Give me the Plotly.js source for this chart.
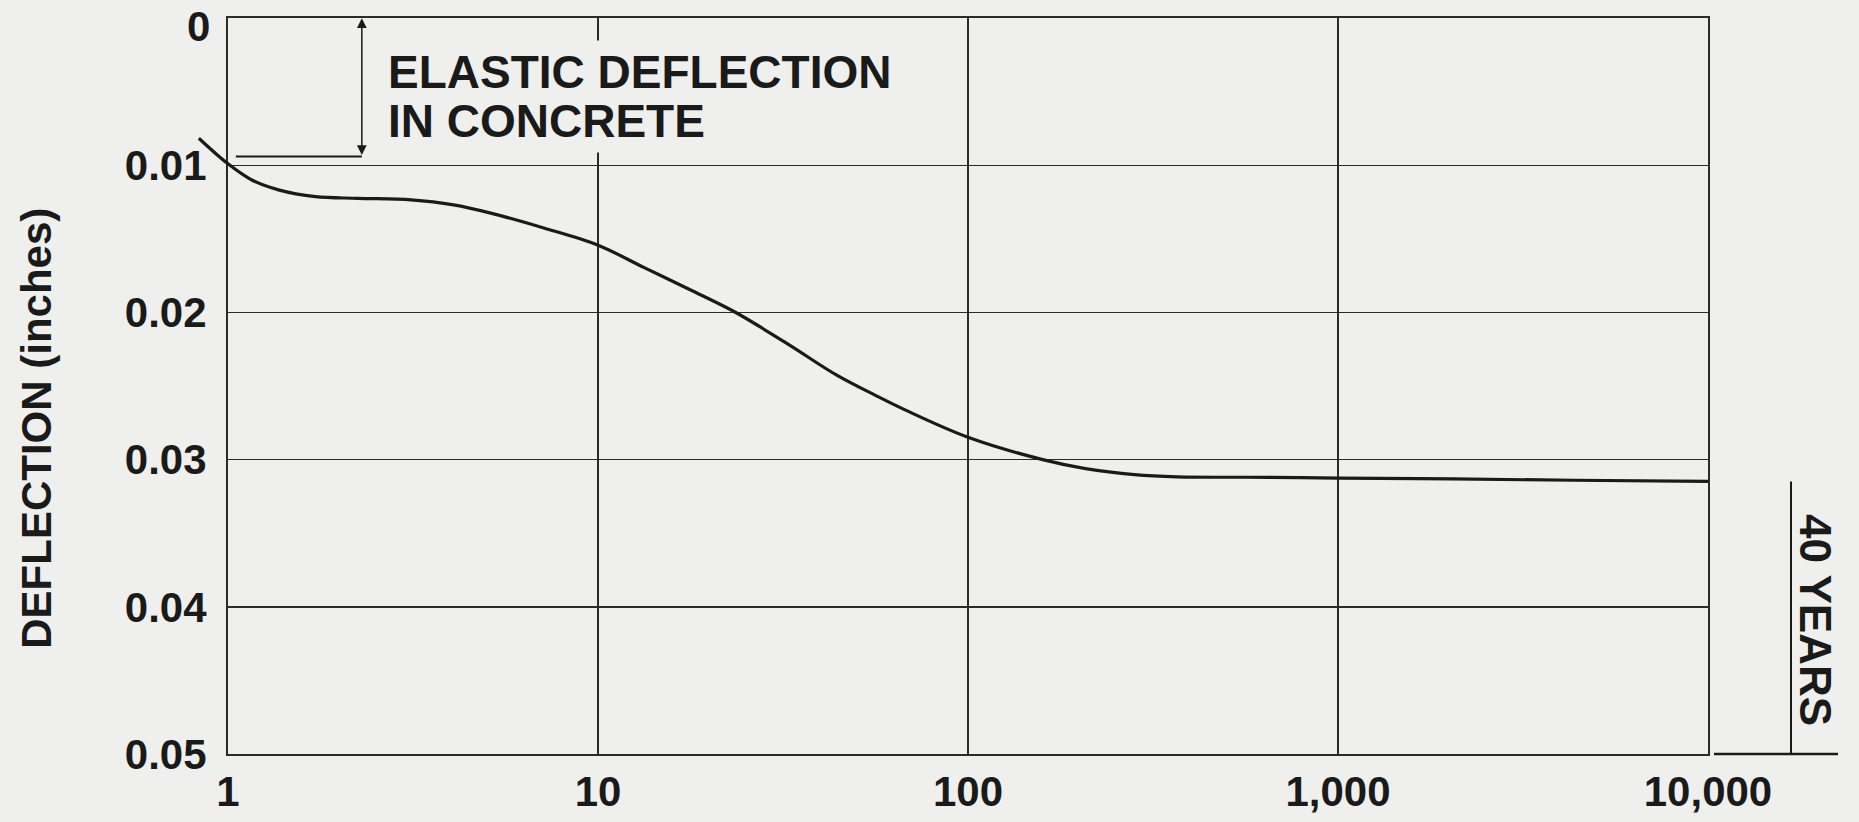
<!DOCTYPE html>
<html>
<head>
<meta charset="utf-8">
<script src="https://cdn.plot.ly/plotly-3.0.1.min.js"></script>
<style>
  html, body { margin: 0; padding: 0; background: #efefed; }
  #chart { width: 1859px; height: 822px; }
</style>
</head>
<body>
<div id="chart"></div>
<script>
// ---- data ----
const timeVals = [0.834, 1, 1.16, 1.369, 1.724, 2.246, 3.125, 4.07, 5.13, 7.135, 10,
                  13.38, 18.03, 23.57, 32.7, 44.06, 55.9, 67.6, 100,
                  159.2, 207.8, 281.7, 367.2, 651, 1000, 2032, 4331, 10000];
const deflection = [0.00816, 0.0099, 0.0110, 0.01167, 0.01213, 0.01224, 0.01235, 0.01269, 0.01325, 0.01426, 0.01543,
                    0.01697, 0.01854, 0.0200, 0.02217, 0.02424, 0.0256, 0.02662, 0.02848,
                    0.0300, 0.03061, 0.03102, 0.03117, 0.0312, 0.03125, 0.03131, 0.0314, 0.03148];

const xTickVals = [1, 10, 100, 1000, 10000];
const xTickText = ['1', '10', '100', '1,000', '10,000'];
// the top value "0" sits on the frame; it is drawn as its own label below (kept inside the page)
const yTickVals = [0.01, 0.02, 0.03, 0.04, 0.05];
const yTickText = ['0.01', '0.02', '0.03', '0.04', '0.05'];
const yTopVal = 0;
const yTopText = '0';

// elastic deflection marker (time span and deflection level)
const elasticX = [1.05, 2.30];
const elasticLevel = [0.0094, 0.0094];
const elasticArrowTime = 2.30;
const elasticArrowRange = [0, 0.0094];

const yTitle = 'DEFLECTION (inches)';
const noteLines = ['ELASTIC DEFLECTION', 'IN CONCRETE'];
const sideLabel = '40 YEARS';

// ---- layout geometry ----
const W = 1859, H = 822;
const mL = 196, mR = 151, mT = 18, mB = 68;
const plotW = W - mL - mR;
const ext = 32; // px the curve may extend left of the frame
const xStart = ext / plotW;
const pxPerDecade = (plotW - ext) / 4;

const FONT = 'Liberation Sans, Arial, Helvetica, sans-serif';
const INK = '#1a1a1a';
const GRID = '#2a2a2a';
const BG = '#efefed';

const px2paperX = p => (p - mL) / plotW;

const curve = {
  x: timeVals, y: deflection, xaxis: 'x2', yaxis: 'y2',
  type: 'scatter', mode: 'lines',
  line: { color: INK, width: 3.2, shape: 'spline', smoothing: 1 },
  hoverinfo: 'skip', showlegend: false
};
const elasticLine = {
  x: elasticX, y: elasticLevel, xaxis: 'x', yaxis: 'y',
  type: 'scatter', mode: 'lines',
  line: { color: INK, width: 2 }, hoverinfo: 'skip', showlegend: false
};

const axisCommon = {
  showgrid: true, gridcolor: GRID, gridwidth: 1.6,
  showline: true, linecolor: GRID, linewidth: 2, mirror: true,
  zeroline: false, ticks: '', fixedrange: true,
  ticklabeloverflow: 'allow',
  tickfont: { family: FONT, size: 42, color: INK, weight: 'bold' }
};

const layout = {
  width: W, height: H,
  margin: { l: mL, r: mR, t: mT, b: mB, pad: 0 },
  paper_bgcolor: BG, plot_bgcolor: 'rgba(0,0,0,0)',
  showlegend: false,
  xaxis: Object.assign({}, axisCommon, {
    domain: [xStart, 1], type: 'log', range: [0, 4], anchor: 'y',
    tickmode: 'array', tickvals: xTickVals, ticktext: xTickText,
    ticklabelstandoff: 0
  }),
  yaxis: Object.assign({}, axisCommon, {
    domain: [0, 1], range: [0.05, -0.00001], anchor: 'x',
    tickmode: 'array', tickvals: yTickVals, ticktext: yTickText,
    ticklabelstandoff: 11
  }),
  xaxis2: { domain: [0, 1], type: 'log', range: [-ext / pxPerDecade, 4], anchor: 'y2', visible: false, fixedrange: true },
  yaxis2: { domain: [0, 1], range: [0.05, -0.00001], anchor: 'x2', visible: false, fixedrange: true },
  shapes: [
    { type: 'line', xref: 'paper', yref: 'paper',
      x0: px2paperX(1714), x1: px2paperX(1838), y0: 0, y1: 0,
      line: { color: INK, width: 2.5 } },
    { type: 'line', xref: 'paper', yref: 'y',
      x0: px2paperX(1791), x1: px2paperX(1791), y0: deflection[deflection.length - 1], y1: 0.05,
      line: { color: INK, width: 2 } }
  ],
  annotations: [
    { xref: 'paper', yref: 'y', x: px2paperX(211), y: yTopVal, xanchor: 'right', yanchor: 'middle',
      yshift: -8, text: yTopText, showarrow: false, borderpad: 0,
      font: { family: FONT, size: 42, color: INK, weight: 'bold' } },
    { xref: 'x', yref: 'y', x: Math.log10(elasticArrowTime), y: elasticArrowRange[0],
      axref: 'x', ayref: 'y', ax: Math.log10(elasticArrowTime), ay: elasticArrowRange[1],
      text: '', showarrow: true, arrowside: 'end+start', arrowhead: 2, arrowsize: 1.3,
      arrowwidth: 1.5, arrowcolor: INK, standoff: 0, startstandoff: 0 },
    { xref: 'x', yref: 'y', x: Math.log10(2.6), y: 0.00365, xanchor: 'left', yanchor: 'middle',
      text: noteLines[0], showarrow: false, bgcolor: BG, borderpad: 5,
      font: { family: FONT, size: 46, color: INK, weight: 'bold' } },
    { xref: 'x', yref: 'y', x: Math.log10(2.6), y: 0.0070, xanchor: 'left', yanchor: 'middle',
      text: noteLines[1], showarrow: false, bgcolor: BG, borderpad: 5,
      font: { family: FONT, size: 46, color: INK, weight: 'bold' } },
    { xref: 'paper', yref: 'y', x: px2paperX(37), y: 0.0279, textangle: -90,
      xanchor: 'center', yanchor: 'middle', text: yTitle, showarrow: false,
      font: { family: FONT, size: 42, color: INK, weight: 'bold' } },
    { xref: 'paper', yref: 'y', x: px2paperX(1816), y: 0.0409, textangle: 90,
      xanchor: 'center', yanchor: 'middle', text: sideLabel, showarrow: false,
      font: { family: FONT, size: 44, color: INK, weight: 'bold' } }
  ]
};

Plotly.newPlot('chart', [elasticLine, curve], layout, { displayModeBar: false, staticPlot: true });
</script>
</body>
</html>
